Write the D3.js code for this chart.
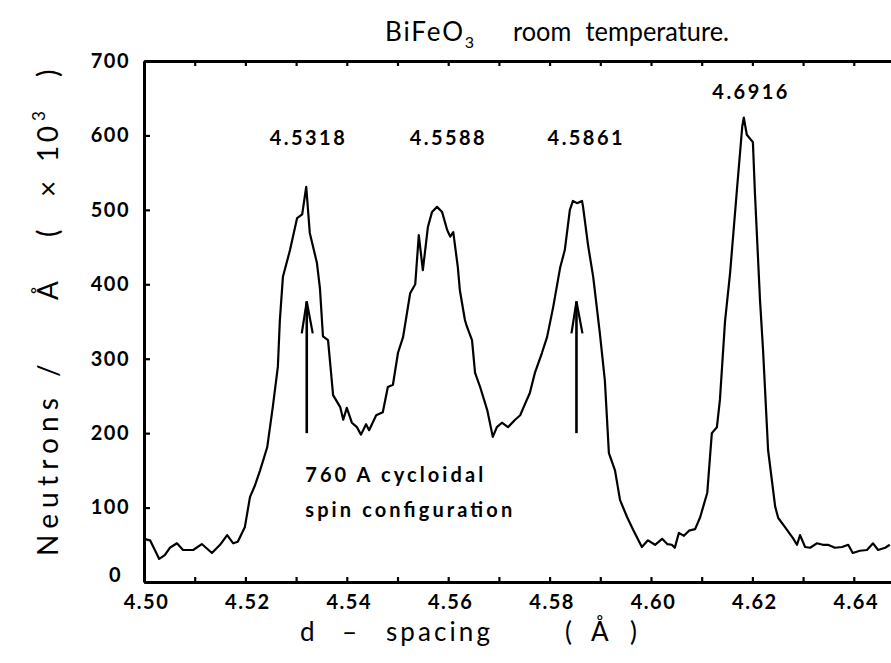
<!DOCTYPE html>
<html><head><meta charset="utf-8">
<script src="https://cdn.jsdelivr.net/npm/d3@7"></script>
<style>body{margin:0;background:#fff} svg{display:block}</style>
</head><body>
<svg id="chart" width="891" height="663"></svg>
<script>
// ---- data ----
const dSpacing = [4.5000,4.5012,4.5030,4.5041,4.5051,4.5065,4.5077,4.5097,4.5114,4.5134,4.5150,4.5164,4.5176,4.5185,4.5199,4.5209,4.5219,4.5229,4.5243,4.5254,4.5264,4.5268,4.5274,4.5288,4.5302,4.5312,4.5320,4.5327,4.5341,4.5347,4.5353,4.5363,4.5373,4.5387,4.5393,4.5400,4.5410,4.5420,4.5428,4.5438,4.5444,4.5458,4.5471,4.5481,4.5491,4.5501,4.5511,4.5525,4.5535,4.5542,4.5550,4.5560,4.5568,4.5578,4.5588,4.5598,4.5604,4.5610,4.5619,4.5623,4.5633,4.5637,4.5647,4.5653,4.5663,4.5677,4.5688,4.5696,4.5706,4.5718,4.5732,4.5742,4.5752,4.5761,4.5771,4.5785,4.5795,4.5807,4.5821,4.5830,4.5840,4.5846,4.5854,4.5864,4.5866,4.5876,4.5886,4.5899,4.5909,4.5917,4.5929,4.5939,4.5953,4.5965,4.5982,4.5994,4.6008,4.6022,4.6032,4.6041,4.6047,4.6055,4.6065,4.6075,4.6087,4.6097,4.6111,4.6120,4.6130,4.6136,4.6146,4.6156,4.6170,4.6180,4.6183,4.6189,4.6201,4.6205,4.6215,4.6221,4.6231,4.6245,4.6251,4.6264,4.6280,4.6288,4.6294,4.6304,4.6314,4.6327,4.6339,4.6349,4.6363,4.6377,4.6389,4.6398,4.6412,4.6426,4.6438,4.6448,4.6462,4.6471];
const neutrons = [58,56,31,36,46,52,43,43,51,39,50,63,52,54,74,114,130,150,181,235,289,352,410,446,489,494,531,469,429,395,330,325,251,235,218,234,214,208,198,212,204,224,228,262,265,308,329,388,400,466,419,477,497,504,497,473,464,470,423,392,352,343,325,281,262,231,195,208,214,208,218,224,240,254,281,308,329,369,423,446,500,512,509,512,504,452,410,335,271,173,150,110,87,70,47,56,50,58,51,50,46,66,62,69,71,87,120,200,208,245,350,415,531,612,624,601,591,523,379,312,177,101,86,74,59,50,63,47,46,52,50,50,46,47,50,39,42,43,52,43,46,50];

const xMinorTicks = [4.50,4.51,4.52,4.53,4.54,4.55,4.56,4.57,4.58,4.59,4.60,4.61,4.62,4.63,4.64];
const xTickLabels = ["4.50","4.52","4.54","4.56","4.58","4.60","4.62","4.64"];
const yTickValues = [0,100,200,300,400,500,600,700];

const peakLabels = ["4.5318","4.5588","4.5861","4.6916"];
const peakLabelD = [4.5322,4.5598,4.5870,4.6195];
const peakLabelN = [587,587,587,649];

const arrowD = [4.5321,4.5853];
const arrowFromN = [200,200];
const arrowToN = [377,377];

const noteLines = ["760 A cycloidal","spin configuration"];
const noteD = 4.5318;
const noteN = [134,88];

// ---- drawing ----
const svg = d3.select("#chart");
const W = 891, H = 663;
const x = d3.scaleLinear().domain([4.5, 4.64734]).range([144, 891]);
const y = d3.scaleLinear().domain([0, 700]).range([582, 61]);
const FONT = "Lato, 'DejaVu Sans', sans-serif";

svg.append("rect").attr("width", W).attr("height", H).attr("fill", "#fff");

const fmtX = v => { const s = v.toFixed(2); return xTickLabels.includes(s) ? s : ""; };

// bottom axis
const gB = svg.append("g").attr("transform", `translate(0,${y(0)})`)
  .call(d3.axisBottom(x).tickValues(xMinorTicks).tickSizeInner(-5).tickSizeOuter(0).tickPadding(13).tickFormat(fmtX));
// top axis
const gT = svg.append("g").attr("transform", `translate(0,${y(700)})`)
  .call(d3.axisTop(x).tickValues(xMinorTicks).tickSizeInner(-5).tickSizeOuter(0).tickFormat(""));
// left axis
const gL = svg.append("g").attr("transform", `translate(${x(4.5)},0)`)
  .call(d3.axisLeft(y).tickValues(yTickValues).tickSizeInner(-6).tickSizeOuter(0).tickPadding(14).tickFormat(d3.format("d")));

[gB, gT, gL].forEach(g => {
  g.select(".domain").attr("stroke", "#000").attr("stroke-width", 3);
  g.selectAll(".tick line").attr("stroke", "#000").attr("stroke-width", 2.2);
  g.selectAll("text").attr("fill", "#000").style("font-family", FONT)
    .style("font-size", "20px").style("font-weight", 700).style("letter-spacing", "1.5px");
});
gB.selectAll(".tick text").attr("dx", "2px");
gL.selectAll(".tick text").filter(d => d === 0).attr("dx", "-8px").attr("dy", "-0.05em");

// curve
const pts = dSpacing.map((d, i) => [d, neutrons[i]]);
svg.append("path").datum(pts)
  .attr("fill", "none").attr("stroke", "#000").attr("stroke-width", 2.2).attr("stroke-linejoin", "round")
  .attr("d", d3.line().x(p => x(p[0])).y(p => y(p[1])));

// arrows
arrowD.forEach((d, i) => {
  const ax = x(d), y0 = y(arrowFromN[i]), y1 = y(arrowToN[i]);
  svg.append("line").attr("x1", ax).attr("x2", ax).attr("y1", y0).attr("y2", y1)
    .attr("stroke", "#000").attr("stroke-width", 2.6);
  svg.append("path").attr("d", `M${ax-5},${y1+32} L${ax},${y1} L${ax+6},${y1+32}`)
    .attr("fill", "none").attr("stroke", "#000").attr("stroke-width", 2.2).attr("stroke-linejoin", "miter");
});

// peak labels
peakLabels.forEach((t, i) => {
  svg.append("text").attr("x", x(peakLabelD[i])).attr("y", y(peakLabelN[i]))
    .attr("text-anchor", "middle").style("font-family", FONT).style("font-size", "20px")
    .style("font-weight", 700).attr("textLength", 75).attr("lengthAdjust", "spacing").text(t);
});

// note
const noteLen = [178, 207];
noteLines.forEach((t, i) => {
  svg.append("text").attr("x", x(noteD)).attr("y", y(noteN[i]))
    .style("font-family", FONT).style("font-size", "20px").style("font-weight", 700)
    .attr("textLength", noteLen[i]).attr("lengthAdjust", "spacing").text(t);
});

// title
const title = svg.append("text").attr("x", 385).attr("y", 41)
  .style("font-family", FONT).style("font-size", "26px");
title.append("tspan").attr("textLength", 78).text("BiFeO");
title.append("tspan").attr("dy", 7).style("font-size", "16px").text("3");
title.append("tspan").attr("x", 513).attr("dy", -7).attr("word-spacing", "8px")
  .attr("textLength", 216).attr("lengthAdjust", "spacingAndGlyphs").text("room temperature.");

// y label
const yl = svg.append("text").attr("transform", "translate(58,0) rotate(-90)")
  .style("font-family", FONT).style("font-size", "28px");
yl.append("tspan").attr("x", -556).attr("textLength", 158).text("Neutrons");
yl.append("tspan").attr("x", -377).text("/");
yl.append("tspan").attr("x", -300).text("Å");
yl.append("tspan").attr("x", -237).text("(");
yl.append("tspan").attr("x", -197).text("×");
yl.append("tspan").attr("x", -162).attr("textLength", 36).text("10");
yl.append("tspan").attr("x", -121).attr("dy", -13).style("font-size", "17px").text("3");
yl.append("tspan").attr("x", -77).attr("dy", 13).text(")");

// x label
const xl = svg.append("text").attr("y", 641)
  .style("font-family", FONT).style("font-size", "26px");
xl.append("tspan").attr("x", 300).text("d");
xl.append("tspan").attr("x", 342).text("–");
xl.append("tspan").attr("x", 386).attr("textLength", 104).text("spacing");
xl.append("tspan").attr("x", 565).text("(");
xl.append("tspan").attr("x", 591).text("Å");
xl.append("tspan").attr("x", 630).text(")");
</script>
</body></html>
